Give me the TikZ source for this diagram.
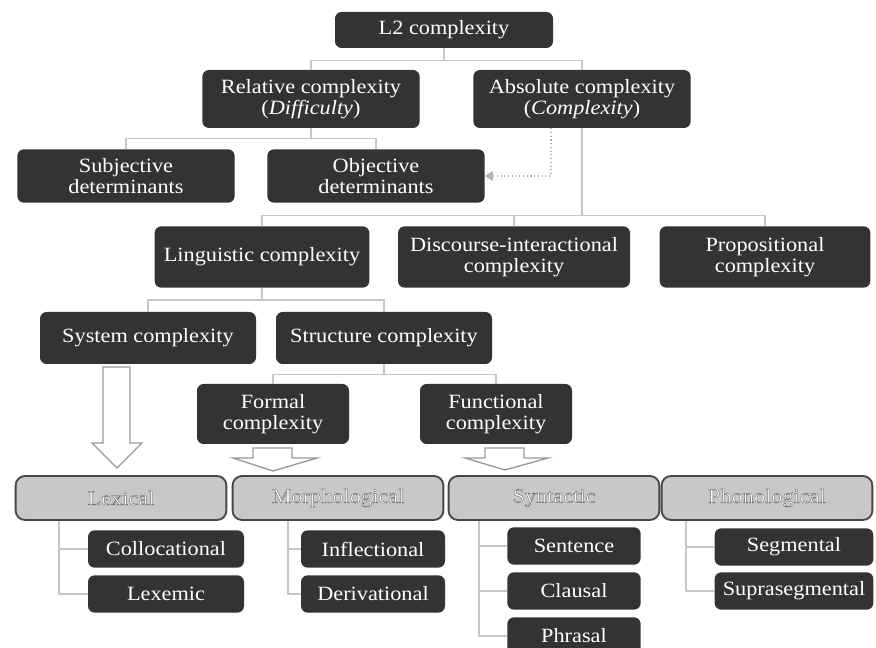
\documentclass[tikz,border=0pt]{standalone}
\usepackage{fontspec}
\setmainfont{Liberation Serif}[FakeStretch=1.1]
\usetikzlibrary{arrows.meta}

\definecolor{boxdark}{HTML}{333333}
\definecolor{catfill}{HTML}{C8C8C8}
\definecolor{catline}{HTML}{474747}
\definecolor{linkgray}{HTML}{C6C6C6}

% white letters with a thin grey rim, as in the domain boxes
\newcommand\rimtext[1]{\special{pdf:code q 2 Tr 0.35 w 0.45 G}#1\special{pdf:code Q}}

\tikzset{
  boxsize/.style 2 args={minimum width=#1, minimum height=#2},
  dark/.style={fill=boxdark, text=white, rounded corners=5pt, align=center,
    inner sep=1pt, font=\fontsize{15.2}{16.2}\selectfont},
  cat/.style={fill=catfill, draw=catline, line width=1.4pt, rounded corners=7pt,
    text=white, align=center, boxsize={158pt}{33pt}, font=\fontsize{15.2}{16.2}\selectfont},
  sub/.style={dark, boxsize={#1}{28pt}},
  link/.style={draw=linkgray, line width=1pt},
  dotlink/.style={draw=gray!60, line width=0.8pt, dotted, -{Triangle[length=6pt,width=7pt]}},
  hollow/.style={draw=gray!80, fill=white, line width=1pt, line join=miter}
}

\begin{document}
\begin{tikzpicture}[x=0.75pt, y=-0.75pt] % px grid of the figure
  \useasboundingbox (0,0) rectangle (876,648);

  % upper tree
  \node[dark, boxsize={163.5pt}{27pt}] (l2) at (444,30) {L2 complexity};
  \node[dark, boxsize={163pt}{43.5pt}] (rel) at (311,99) {Relative complexity\\(\textit{Difficulty})};
  \node[dark, boxsize={163pt}{43.5pt}] (abs) at (582,99) {Absolute complexity\\(\textit{Complexity})};
  \node[dark, boxsize={163pt}{40pt}] (subj) at (126,176) {Subjective\\determinants};
  \node[dark, boxsize={163pt}{40pt}] (obj) at (376,176) {Objective\\determinants};
  \node[dark, boxsize={161pt}{46pt}] (ling) at (262,257) {Linguistic complexity};
  \node[dark, boxsize={174pt}{46pt}] (disc) at (514,257) {Discourse-interactional\\complexity};
  \node[dark, boxsize={158pt}{46pt}] (prop) at (765,257) {Propositional\\complexity};
  \node[dark, boxsize={162pt}{39pt}] (sys) at (148,338) {System complexity};
  \node[dark, boxsize={162pt}{39pt}] (struc) at (384,338) {Structure complexity};
  \node[dark, boxsize={114pt}{45pt}] (formal) at (273,414) {Formal\\complexity};
  \node[dark, boxsize={114pt}{45pt}] (func) at (496,414) {Functional\\complexity};

  \draw[link] (l2.south) -- ++(0,12) -| (rel.north);
  \draw[link] (l2.south) -- ++(0,12) -| (abs.north);
  \draw[link] (rel.south) -- ++(0,10) -| (subj.north);
  \draw[link] (rel.south) -- ++(0,10) -| (obj.north);
  \draw[link] (abs.south) -- ++(0,87) -| (ling.north);
  \draw[link] (abs.south) -- ++(0,87) -| (disc.north);
  \draw[link] (abs.south) -- ++(0,87) -| (prop.north);
  \draw[dotlink] ([xshift=-23.25pt]abs.south) |- (obj.east);
  \draw[link] (ling.south) -- ++(0,12) -| (sys.north);
  \draw[link] (ling.south) -- ++(0,12) -| (struc.north);
  \draw[link] (struc.south) -- ++(0,10) -| (formal.north);
  \draw[link] (struc.south) -- ++(0,10) -| (func.north);

  % block arrows
  \draw[hollow, shift={(117,367)}] (-14,0) -- (13,0) -- (13,76) -- (25,76) -- (0,101)
    -- (-25,76) -- (-14,76) -- cycle;
  \draw[hollow, shift={(273,448)}] (-20,0) -- (19,0) -- (19,10) -- (44,10) -- (0,23)
    -- (-40,10) -- (-20,10) -- cycle;
  \draw[hollow, shift={(505,448)}] (-20,0) -- (19,0) -- (19,10) -- (43,10) -- (0,22)
    -- (-40,10) -- (-20,10) -- cycle;

  % domains
  \node[cat] (lex) at (121,498) {\rimtext{Lexical}};
  \node[cat] (morph) at (338,498) {\rimtext{Morphological}};
  \node[cat] (synt) at (554,498) {\rimtext{Syntactic}};
  \node[cat] (phon) at (767,498) {\rimtext{Phonological}};

  \node[sub=117pt] (coll) at (166,549) {Collocational};
  \node[sub=117pt] (lexm) at (166,594) {Lexemic};
  \node[sub=108pt] (infl) at (373,549) {Inflectional};
  \node[sub=108pt] (deriv) at (373,594) {Derivational};
  \node[sub=100pt] (sent) at (574,546) {Sentence};
  \node[sub=100pt] (claus) at (574,591) {Clausal};
  \node[sub=100pt] (phras) at (574,636) {Phrasal};
  \node[sub=119pt] (seg) at (794,547) {Segmental};
  \node[sub=119pt] (supra) at (794,591) {Suprasegmental};

  \draw[link] ([xshift=-46.5pt]lex.south) |- (coll.west);
  \draw[link] ([xshift=-46.5pt]lex.south) |- (lexm.west);
  \draw[link] ([xshift=-37.5pt]morph.south) |- (infl.west);
  \draw[link] ([xshift=-37.5pt]morph.south) |- (deriv.west);
  \draw[link] ([xshift=-56.25pt]synt.south) |- (sent.west);
  \draw[link] ([xshift=-56.25pt]synt.south) |- (claus.west);
  \draw[link] ([xshift=-56.25pt]synt.south) |- (phras.west);
  \draw[link] ([xshift=-60.75pt]phon.south) |- (seg.west);
  \draw[link] ([xshift=-60.75pt]phon.south) |- (supra.west);
\end{tikzpicture}
\end{document}
